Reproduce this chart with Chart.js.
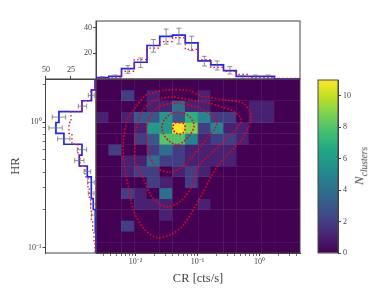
<!DOCTYPE html>
<html>
<head>
<meta charset="utf-8">
<title>CR vs HR</title>
<script src="https://cdn.jsdelivr.net/npm/chart.js@4"></script>
<style>
  html, body { margin: 0; padding: 0; background: #fff; overflow: hidden; }
  canvas { position: absolute; left: 0; top: 0; }
  #cbLabel {
    position: absolute; left: 360px; top: 166px; white-space: nowrap; color: #444;
    font: italic 13px "Liberation Serif", serif;
    transform: translate(-50%, -50%) rotate(-90deg);
  }
  #cbLabel sub { font-size: 9.5px; }
</style>
</head>
<body>
<canvas id="mainChart" width="374" height="291"></canvas>
<canvas id="topChart" width="374" height="291"></canvas>
<canvas id="leftChart" width="374" height="291"></canvas>
<canvas id="barChart" width="374" height="291"></canvas>
<div id="cbLabel">N<sub>clusters</sub></div>
<script>
'use strict';

// axis ranges
const CR_RANGE = [0.0023, 4.5];
const HR_RANGE = [0.0907, 2.2];
const N_BINS = 16;
const N_MAX = 11;

// 2D histogram, rows from the top of the plot, columns from the left
const cellCounts = [
  [0, 0, 0, 0, 0, 0, 0, 0, 0, 0, 0, 0, 0, 0, 0, 0],
  [0, 0, 2, 0, 1, 0, 0, 0, 1, 0, 0, 0, 0, 0, 0, 0],
  [0, 0, 0, 0, 1, 1, 4, 1, 1, 0, 0, 0, 1, 1, 0, 0],
  [1, 0, 1, 3, 3, 6, 3, 7, 5, 2, 2, 0, 1, 1, 0, 0],
  [0, 0, 0, 1, 6, 6, 11, 9, 2, 5, 1, 1, 0, 0, 0, 0],
  [0, 0, 0, 2, 3, 8, 8, 5, 1, 2, 2, 1, 0, 0, 0, 0],
  [0, 2, 0, 0, 2, 4, 2, 1, 1, 1, 1, 0, 0, 0, 0, 0],
  [0, 0, 1, 1, 4, 2, 2, 1, 1, 1, 1, 0, 0, 0, 0, 0],
  [0, 0, 1, 2, 2, 0, 1, 2, 1, 0, 0, 0, 0, 0, 0, 0],
  [0, 0, 0, 0, 2, 1, 0, 2, 0, 0, 0, 0, 0, 0, 0, 0],
  [0, 0, 2, 1, 0, 4, 0, 0, 0, 0, 0, 0, 0, 0, 0, 0],
  [0, 0, 0, 1, 1, 1, 0, 0, 1, 0, 0, 0, 0, 0, 0, 0],
  [0, 0, 0, 0, 0, 1, 0, 0, 0, 0, 0, 0, 0, 0, 0, 0],
  [0, 0, 2, 0, 0, 0, 0, 0, 0, 0, 0, 0, 0, 0, 0, 0],
  [0, 0, 0, 0, 0, 0, 0, 0, 0, 0, 0, 0, 0, 0, 0, 0],
  [0, 0, 0, 0, 0, 0, 0, 0, 0, 0, 0, 0, 0, 0, 0, 0],
];

// bin edges that show up as faint seams in the mesh
const seamCols = [2, 3, 5, 6, 8, 10, 11, 13];
const seamRows = [2, 4, 5, 6, 8, 9, 12, 15];

// contours, log10(CR) and log10(HR)
const contours = [
  {
    cr: [-1.298, -1.218, -1.202, -1.218, -1.282, -1.347, -1.395, -1.395, -1.363, -1.298],
    hr: [-0.004, -0.016, -0.048, -0.080, -0.095, -0.088, -0.064, -0.032, -0.008, -0.004],
  },
  {
    cr: [-1.326, -1.174, -1.077, -1.056, -1.121, -1.229, -1.326, -1.444, -1.540, -1.577, -1.540, -1.444, -1.326],
    hr: [0.082, 0.061, 0.008, -0.037, -0.103, -0.157, -0.181, -0.157, -0.103, -0.045, 0.016, 0.061, 0.082],
  },
  {
    cr: [-1.819, -1.815, -1.734, -1.605, -1.335, -1.013, -0.745, -0.690, -0.826, -1.040, -1.202, -1.444, -1.653, -1.782, -1.819],
    hr: [-0.159, -0.024, 0.072, 0.125, 0.151, 0.117, 0.045, -0.021, -0.117, -0.247, -0.342, -0.400, -0.366, -0.263, -0.159],
  },
  {
    cr: [-2.008, -1.976, -1.879, -1.734, -1.444, -1.121, -0.798, -0.556, -0.427, -0.315, -0.303, -0.503, -0.718, -0.987, -1.089, -1.282, -1.524, -1.739, -1.879, -2.008, -2.008],
    hr: [-0.183, -0.024, 0.095, 0.159, 0.199, 0.177, 0.149, 0.111, 0.088, 0.042, -0.010, -0.117, -0.223, -0.350, -0.509, -0.634, -0.674, -0.594, -0.445, -0.316, -0.183],
  },
  {
    cr: [-2.197, -2.142, -2.008, -1.819, -1.497, -1.121, -0.960, -0.556, -0.261, -0.153, -0.142, -0.287, -0.503, -0.718, -0.960, -1.229, -1.444, -1.658, -1.874, -2.035, -2.116, -2.153, -2.197, -2.197],
    hr: [-0.143, 0.002, 0.111, 0.215, 0.255, 0.249, 0.209, 0.177, 0.149, 0.082, 0.016, -0.143, -0.249, -0.382, -0.605, -0.819, -0.899, -0.920, -0.846, -0.700, -0.515, -0.422, -0.276, -0.143],
  },
];

// CR histogram (top panel)
const crObserved = [1, 2, 8, 13, 26, 33, 34, 28, 14, 11, 6.5, 2, 2, 2, 0, 0];
const crModel = [0.3, 0.8, 6, 15, 24, 29, 32, 23, 15, 9, 6, 3.5, 1, 1, 0.5, 0.5];
const crErrLow = [0, 0, 4.4, 9, 20.8, 27, 27.2, 22, 10.1, 7, 3.9, 0, 0, 0];
const crErrHigh = [1.8, 3.1, 10.4, 16.3, 30.6, 38.7, 39.4, 33.2, 17.6, 14, 9.6, 2.6, 3.1, 3.1];

// HR histogram (left panel), rows from the top
const hrObserved = [1, 4.5, 14, 37, 40, 32, 14, 16.7, 8.7, 4.7, 4.7, 2.7, 0.7, 0.7, 0, 0];
const hrModel = [1, 5.3, 14, 25, 27, 24, 18, 16, 11, 8, 6.7, 5.3, 4.7, 3.3, 2, 1];
const hrErrRows = [1, 2, 3, 4, 5, 6, 7, 8, 9, 10, 11, 12];
const hrErrLow = [1.7, 9.3, 30.3, 33.7, 26, 9.3, 12, 5.3, 1.7, 2, 0, 0];
const hrErrHigh = [7.7, 17.7, 43.7, 47, 38.3, 18.7, 21.3, 12, 8.3, 7.7, 5.3, 4.3];

const crTickLabels = { '-2': '10⁻²', '-1': '10⁻¹', '0': '10⁰' };
const hrTickLabels = { '-1': '10⁻¹', '0': '10⁰' };
const colorbarTicks = [0, 2, 4, 6, 8, 10];

const viridisStops = ['#440154', '#482475', '#414487', '#355f8d', '#2a788e', '#21918c', '#22a884', '#44bf70', '#7ad151', '#bddf26', '#fde725'];

const SERIF = '"Liberation Serif", serif';
const INK = '#444';
const BLUE = '#2323f5';
const RED = '#f01020';

Chart.defaults.animation = false;
Chart.defaults.responsive = false;
Chart.defaults.devicePixelRatio = 1;
Chart.defaults.font.family = SERIF;
Chart.defaults.font.size = 8;
Chart.defaults.color = INK;
Chart.defaults.plugins.legend.display = false;
Chart.defaults.plugins.tooltip.enabled = false;

// ── Helpers ──────────────────────────────────────────────────────────────────

function hexToRgb(hex) {
  return [1, 3, 5].map(i => parseInt(hex.slice(i, i + 2), 16));
}

function viridis(v) {
  const t = Math.min(v / N_MAX, 1) * (viridisStops.length - 1);
  const i = Math.min(Math.floor(t), viridisStops.length - 2);
  const a = hexToRgb(viridisStops[i]);
  const b = hexToRgb(viridisStops[i + 1]);
  const mix = a.map((c, k) => Math.round(c + (b[k] - c) * (t - i)));
  return `rgb(${mix.join(',')})`;
}

function stepLine(values, swap) {
  const pts = [];
  values.forEach((v, i) => {
    pts.push(swap ? { x: v, y: i } : { x: i, y: v });
    pts.push(swap ? { x: v, y: i + 1 } : { x: i + 1, y: v });
  });
  return pts;
}

// fixes an axis box so the chart area lands where the padding says
function fixSize(size) {
  return scale => {
    if (scale.isHorizontal()) scale.height = size;
    else scale.width = size;
    scale.paddingLeft = scale.paddingRight = scale.paddingTop = scale.paddingBottom = 0;
  };
}

function onlyWholeTicks(scale) {
  scale.ticks = scale.ticks.filter(t => {
    const sig = t.value / Math.pow(10, Math.floor(Math.log10(t.value) + 1e-9));
    return Math.abs(sig - Math.round(sig)) < 1e-6;
  });
}

function logLabel(labels) {
  return v => {
    const e = Math.log10(v);
    return Math.abs(e - Math.round(e)) < 1e-6 ? (labels[Math.round(e)] || '') : '';
  };
}

function tickColor(ctx) {
  const e = Math.log10(ctx.tick.value);
  return Math.abs(e - Math.round(e)) < 1e-6 ? INK : '#777';
}

const framePlugin = {
  id: 'frame',
  afterDatasetsDraw(chart) {
    const a = chart.chartArea;
    const ctx = chart.ctx;
    ctx.save();
    ctx.strokeStyle = INK;
    ctx.lineWidth = 1;
    ctx.strokeRect(a.left, a.top, a.right - a.left, a.bottom - a.top);
    ctx.restore();
  },
};

function stepDataset(points, xAxisID, yAxisID, color, dashed) {
  return {
    type: 'line',
    data: points,
    xAxisID,
    yAxisID,
    borderColor: color,
    borderWidth: dashed ? 1.3 : 1.7,
    borderDash: dashed ? [1.5, 2.5] : [],
    pointRadius: 0,
    tension: 0,
    clip: 3,
  };
}

function errorDataset(points, xAxisID, yAxisID, rotation) {
  return {
    type: 'line',
    data: points,
    xAxisID,
    yAxisID,
    borderColor: 'rgba(110,110,110,0.75)',
    borderWidth: 1,
    pointStyle: 'line',
    pointRadius: 2.5,
    pointRotation: rotation,
    pointBorderColor: 'rgba(110,110,110,0.75)',
    spanGaps: false,
    tension: 0,
  };
}

// ── Main panel ───────────────────────────────────────────────────────────────

const cellDatasets = cellCounts.map((row, r) => ({
  type: 'bar',
  xAxisID: 'binX',
  yAxisID: 'binY',
  grouped: false,
  barPercentage: 1,
  categoryPercentage: 1,
  borderWidth: 0,
  data: row.map((n, c) => ({ x: c + 0.5, y: [r, r + 1] })),
  backgroundColor: row.map(n => viridis(n)),
  order: 2,
}));

const contourDatasets = contours.map(c => ({
  type: 'line',
  xAxisID: 'x',
  yAxisID: 'y',
  data: c.cr.map((v, i) => ({ x: Math.pow(10, v), y: Math.pow(10, c.hr[i]) })),
  borderColor: '#e6001f',
  borderWidth: 1.6,
  borderDash: [1.6, 1.8],
  pointRadius: 0,
  tension: 0.3,
  order: 1,
}));

new Chart(document.getElementById('mainChart'), {
  type: 'bar',
  data: { datasets: [...cellDatasets, ...contourDatasets] },
  plugins: [framePlugin],
  options: {
    layout: { padding: { left: 96, top: 79, right: 74, bottom: 5 } },
    scales: {
      x: {
        type: 'logarithmic',
        position: 'bottom',
        min: CR_RANGE[0],
        max: CR_RANGE[1],
        offset: false,
        afterFit: fixSize(33),
        afterBuildTicks: onlyWholeTicks,
        grid: { offset: false, drawOnChartArea: false, tickLength: 3, color: tickColor },
        border: { color: INK },
        ticks: { autoSkip: false, maxRotation: 0, padding: 1, callback: logLabel(crTickLabels) },
        title: { display: true, text: 'CR [cts/s]', font: { size: 12.5, family: SERIF }, color: INK, padding: 0 },
      },
      y: { type: 'logarithmic', min: HR_RANGE[0], max: HR_RANGE[1], display: false },
      binX: {
        type: 'linear',
        position: 'bottom',
        min: 0,
        max: N_BINS,
        offset: false,
        afterFit: fixSize(0),
        ticks: { display: false, stepSize: 1 },
        border: { display: false },
        grid: {
          offset: false,
          z: 1,
          drawTicks: false,
          color: ctx => seamCols.includes(ctx.tick.value) ? 'rgba(150,120,170,0.14)' : 'transparent',
        },
      },
      binY: {
        type: 'linear',
        position: 'left',
        reverse: true,
        min: 0,
        max: N_BINS,
        afterFit: fixSize(0),
        ticks: { display: false, stepSize: 1 },
        border: { display: false },
        grid: {
          z: 1,
          drawTicks: false,
          color: ctx => seamRows.includes(ctx.tick.value) ? 'rgba(150,120,170,0.14)' : 'transparent',
        },
      },
    },
  },
});

// ── Top panel: CR histogram ──────────────────────────────────────────────────

const crErrPoints = [];
crErrLow.forEach((lo, i) => {
  crErrPoints.push({ x: i + 0.5, y: lo }, { x: i + 0.5, y: crErrHigh[i] }, { x: NaN, y: NaN });
});

new Chart(document.getElementById('topChart'), {
  type: 'line',
  data: {
    datasets: [
      errorDataset(crErrPoints, 'binX', 'count', 0),
      stepDataset(stepLine(crModel), 'binX', 'count', RED, true),
      stepDataset(stepLine(crObserved), 'binX', 'count', BLUE, false),
    ],
  },
  plugins: [framePlugin],
  options: {
    layout: { padding: { left: 76, top: 21, right: 74, bottom: 212 } },
    scales: {
      binX: { type: 'linear', axis: 'x', min: 0, max: N_BINS, display: false },
      count: {
        type: 'linear',
        axis: 'y',
        position: 'left',
        min: 0,
        max: 45,
        afterFit: fixSize(20),
        afterBuildTicks: s => { s.ticks = [20, 40].map(value => ({ value })); },
        grid: { drawOnChartArea: false, tickLength: 3, color: INK },
        border: { color: INK },
        ticks: { padding: 1 },
      },
    },
  },
});

// ── Left panel: HR histogram ─────────────────────────────────────────────────

const hrErrPoints = [];
hrErrRows.forEach((r, i) => {
  hrErrPoints.push({ x: hrErrLow[i], y: r + 0.5 }, { x: hrErrHigh[i], y: r + 0.5 }, { x: NaN, y: NaN });
});

new Chart(document.getElementById('leftChart'), {
  type: 'line',
  data: {
    datasets: [
      errorDataset(hrErrPoints, 'count', 'binY', 90),
      stepDataset(stepLine(hrModel, true), 'count', 'binY', RED, true),
      stepDataset(stepLine(hrObserved, true), 'count', 'binY', BLUE, false),
    ],
  },
  plugins: [framePlugin],
  options: {
    layout: { padding: { left: 8, top: 59, right: 278, bottom: 38 } },
    scales: {
      count: {
        type: 'linear',
        axis: 'x',
        position: 'top',
        reverse: true,
        min: 0,
        max: 50.4,
        afterFit: fixSize(20),
        afterBuildTicks: s => { s.ticks = [25, 50].map(value => ({ value })); },
        grid: { drawOnChartArea: false, tickLength: 3, color: INK },
        border: { color: INK },
        ticks: { padding: 1, maxRotation: 0 },
      },
      binY: { type: 'linear', axis: 'y', reverse: true, min: 0, max: N_BINS, display: false },
      hr: {
        type: 'logarithmic',
        axis: 'y',
        position: 'left',
        min: HR_RANGE[0],
        max: HR_RANGE[1],
        afterFit: fixSize(37.5),
        afterBuildTicks: onlyWholeTicks,
        grid: { drawOnChartArea: false, tickLength: 3, color: tickColor },
        border: { color: INK },
        ticks: { autoSkip: false, padding: 1, callback: logLabel(hrTickLabels) },
        title: { display: true, text: 'HR', font: { size: 12.5, family: SERIF }, color: INK, padding: 0 },
      },
    },
  },
});

// ── Colorbar ─────────────────────────────────────────────────────────────────

function colorbarFill(ctx) {
  const area = ctx.chart.chartArea;
  if (!area) return viridisStops[0];
  const grad = ctx.chart.ctx.createLinearGradient(0, area.bottom, 0, area.top);
  viridisStops.forEach((c, i) => grad.addColorStop(i / (viridisStops.length - 1), c));
  return grad;
}

new Chart(document.getElementById('barChart'), {
  type: 'bar',
  data: {
    labels: ['N'],
    datasets: [{
      data: [[0, N_MAX]],
      barPercentage: 1,
      categoryPercentage: 1,
      borderWidth: 0,
      backgroundColor: colorbarFill,
    }],
  },
  plugins: [framePlugin],
  options: {
    layout: { padding: { left: 318, top: 80, right: 6, bottom: 38 } },
    scales: {
      x: { display: false },
      y: {
        position: 'right',
        min: 0,
        max: N_MAX,
        afterFit: fixSize(30),
        afterBuildTicks: s => { s.ticks = colorbarTicks.map(value => ({ value })); },
        grid: { drawOnChartArea: false, tickLength: 3, color: INK },
        border: { color: INK },
        ticks: { padding: 2 },
      },
    },
  },
});
</script>
</body>
</html>
